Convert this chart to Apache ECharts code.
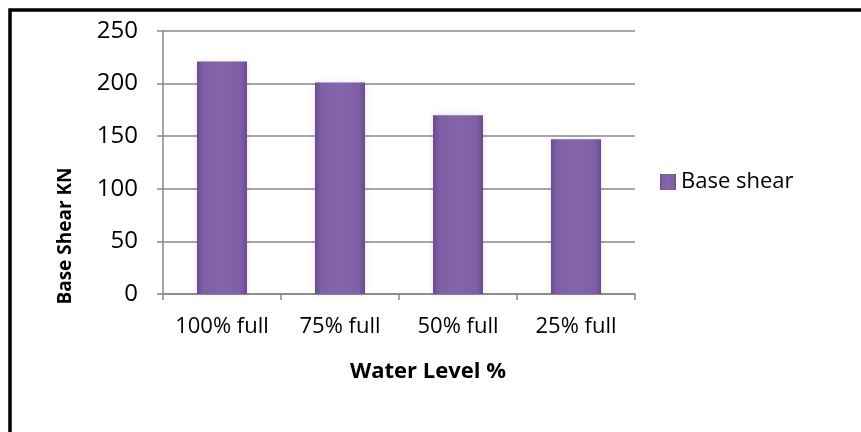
<!DOCTYPE html>
<html>
<head>
<meta charset="utf-8">
<script src="https://cdn.jsdelivr.net/npm/echarts@6/dist/echarts.min.js"></script>
<style>
  html, body { margin: 0; padding: 0; background: #fff; }
  #chart { width: 861px; height: 432px; }
</style>
</head>
<body>
<div id="chart"></div>
<script>
// data
var categories = ['100% full', '75% full', '50% full', '25% full'];
var baseShear = [221, 201, 170, 147];
var seriesName = 'Base shear';
var yTicks = { min: 0, max: 250, interval: 50 };

var fontFam = '"Open Sans", "Noto Sans", sans-serif';

var chart = echarts.init(document.getElementById('chart'));

var barColor = new echarts.graphic.LinearGradient(0, 0, 1, 0, [
    { offset: 0, color: '#6a4b90' },
    { offset: 0.12, color: '#7e5fa6' },
    { offset: 0.5, color: '#8566ad' },
    { offset: 0.88, color: '#7e5fa6' },
    { offset: 1, color: '#6a4b90' }
]);

var option = {
    backgroundColor: '#fff',
    animation: false,
    grid: { left: 163, right: 226, top: 31, bottom: 138 },
    legend: {
        data: [seriesName],
        left: 655,
        top: 166,
        itemWidth: 16,
        itemHeight: 16,
        itemGap: 6,
        icon: 'rect',
        textStyle: { fontFamily: fontFam, fontSize: 22, color: '#000' }
    },
    xAxis: {
        type: 'category',
        data: categories,
        axisLine: { lineStyle: { color: '#888', width: 1.5 } },
        axisTick: { show: true, interval: 0, length: 6, lineStyle: { color: '#888', width: 1.5 } },
        axisLabel: { interval: 0, hideOverlap: false, fontFamily: fontFam, fontSize: 22, color: '#000', margin: 22 }
    },
    yAxis: {
        type: 'value',
        min: yTicks.min,
        max: yTicks.max,
        interval: yTicks.interval,
        axisLine: { show: true, lineStyle: { color: '#888', width: 1.5 } },
        axisTick: { show: true, length: 6, lineStyle: { color: '#888', width: 1.5 } },
        axisLabel: { fontFamily: fontFam, fontSize: 24, color: '#000', margin: 25 },
        splitLine: { lineStyle: { color: '#888', width: 1.5 } }
    },
    graphic: [
        {
            type: 'rect',
            shape: { x: 10, y: 10, width: 900, height: 500 },
            style: { fill: 'none', stroke: '#000', lineWidth: 3.5 },
            silent: true
        },
        {
            // y axis title sits low, as in the original
            type: 'text',
            x: 66,
            y: 236,
            rotation: Math.PI / 2,
            style: {
                text: 'Base Shear KN',
                font: 'bold 19px ' + fontFam,
                fill: '#000',
                align: 'center',
                verticalAlign: 'middle'
            }
        },
        {
            type: 'text',
            x: 428,
            y: 372,
            style: {
                text: 'Water Level %',
                font: 'bold 22px ' + fontFam,
                fill: '#000',
                align: 'center',
                verticalAlign: 'middle'
            }
        }
    ],
    series: [
        {
            name: seriesName,
            type: 'bar',
            data: baseShear,
            barWidth: 50,
            itemStyle: {
                color: barColor,
                shadowColor: 'rgba(0,0,0,0.12)',
                shadowBlur: 6,
                shadowOffsetX: 0
            }
        }
    ]
};
chart.setOption(option);
</script>
</body>
</html>
